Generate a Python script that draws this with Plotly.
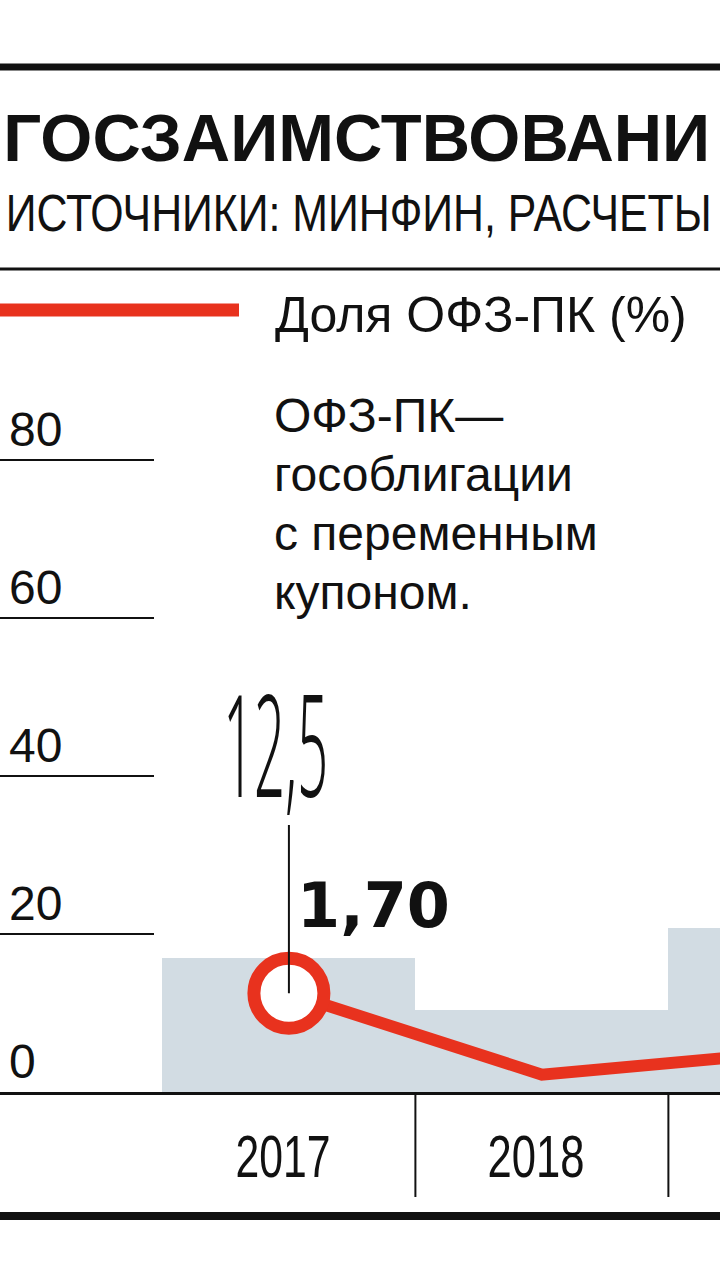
import json
import plotly.graph_objects as go

# данные
years = ["2017", "2018", "2019"]
borrow = [1.70, 1.04, 2.07]      # столбики, трлн руб.
share_pk = [12.5, 2.2, 5.1]      # доля ОФЗ-ПК, %
y_ticks = [0, 20, 40, 60, 80]

title = "ГОСЗАИМСТВОВАНИ"
source = "ИСТОЧНИКИ: МИНФИН, РАСЧЕТЫ"
legend_txt = "Доля ОФЗ-ПК (%)"
note_lines = ["ОФЗ-ПК—", "гособлигации", "с переменным", "купоном."]

RED = "#e8321e"
BAR = "#d2dce3"
INK = "#111111"
REG = "Liberation Sans, Arial"

W, H = 720, 1280
TOP, BOT = 380, 1092          # plot area in px
PX = 7.9                      # px per unit of y
ymax = (BOT - TOP) / PX

pk_label = f"{share_pk[0]:.1f}".replace(".", ",")
bar_label = f"{borrow[0]:.2f}".replace(".", ",")

# узкий шрифт имитируем сжатием текста по ширине (px)
fit = {title: 707, pk_label: 105, years[0]: 95, years[1]: 97}
scale_fit = {source: 706}


def py(p):
    # pixel row -> paper y
    return (BOT - p) / (BOT - TOP)


fig = go.Figure()

fig.add_trace(go.Bar(x=years, y=borrow, yaxis="y", marker=dict(color=BAR, line=dict(width=0)),
                     width=1, hoverinfo="skip"))
fig.add_trace(go.Scatter(x=years, y=share_pk, yaxis="y2", mode="lines",
                         line=dict(color=RED, width=12), hoverinfo="skip"))
fig.add_trace(go.Scatter(x=years[:1], y=share_pk[:1], yaxis="y2", mode="markers",
                         marker=dict(size=70, color="white", line=dict(color=RED, width=13)),
                         hoverinfo="skip"))

shapes = []
# рамка
for p, w in [(67, 7), (269, 3), (1216, 8)]:
    shapes.append(dict(type="line", xref="paper", yref="paper", x0=0, x1=1, y0=py(p), y1=py(p),
                       line=dict(color=INK, width=w)))
# легенда
shapes.append(dict(type="line", xref="paper", yref="paper", x0=0, x1=239 / W, y0=py(310), y1=py(310),
                   line=dict(color=RED, width=13)))
# короткие линии сетки
for v in y_ticks[1:]:
    shapes.append(dict(type="line", xref="paper", yref="y2", x0=0, x1=154 / W, y0=v, y1=v,
                       line=dict(color=INK, width=2)))
# разделители лет
for i in range(len(years) - 1):
    shapes.append(dict(type="line", xref="x", yref="paper", x0=i + 0.5, x1=i + 0.5, y0=0, y1=py(1197),
                       line=dict(color=INK, width=2)))
# выноска
shapes.append(dict(type="line", xref="x", yref="y2", x0=0, x1=0, y0=share_pk[0], y1=(BOT - 825) / PX,
                   line=dict(color=INK, width=2), layer="above"))

annotations = [
    dict(text=title, x=356.5 / W, y=py(137), xref="paper", yref="paper", xanchor="center",
         yanchor="middle", showarrow=False, font=dict(family=REG, size=67, color=INK, weight="bold")),
    dict(text=source, x=358 / W, y=py(213), xref="paper", yref="paper", xanchor="center",
         yanchor="middle", showarrow=False, font=dict(family=REG, size=52, color=INK)),
    dict(text=legend_txt, x=273 / W, y=py(315), xref="paper", yref="paper", xanchor="left",
         yanchor="middle", showarrow=False, font=dict(family=REG, size=50, color=INK)),
    dict(text=pk_label, x=0, y=(BOT - 742) / PX, xref="x", yref="y2",
         xshift=-13, xanchor="center", yanchor="middle", showarrow=False,
         font=dict(family="Noto Sans, Liberation Sans", size=142, color=INK, weight=300)),
    dict(text=bar_label, x=0, y=(BOT - 905) / PX, xref="x", yref="y2",
         xshift=6, xanchor="left", yanchor="middle", showarrow=False,
         font=dict(family="DejaVu Sans", size=62, color=INK, weight="bold")),
]
for k, line in enumerate(note_lines):
    annotations.append(dict(text=line, x=272 / W, y=py(387 + 59 * k), xref="paper", yref="paper",
                            xanchor="left", yanchor="top", showarrow=False,
                            font=dict(family=REG, size=48, color=INK)))

fig.update_layout(
    width=W, height=H,
    margin=dict(l=0, r=0, t=TOP, b=H - BOT, pad=0),
    paper_bgcolor="white", plot_bgcolor="white",
    showlegend=False, bargap=0,
    xaxis=dict(type="category", range=[-1.142, 1.704],
               showgrid=False, zeroline=False, showline=True, linecolor=INK, linewidth=3,
               ticks="", ticklabelstandoff=10, ticklabelshift=-6,
               tickfont=dict(family=REG, size=60, color=INK)),
    yaxis=dict(range=[0, ymax / 10], visible=False),
    yaxis2=dict(range=[0, ymax], overlaying="y", side="left", tickvals=y_ticks,
                showgrid=False, zeroline=False, showline=False,
                ticks="", ticklabelposition="inside", ticklabelshift=-31, ticklabelstandoff=6,
                tickfont=dict(family=REG, size=48, color=INK)),
    shapes=shapes, annotations=annotations,
)

js = """
document.body.style.margin = '0';
var gd = document.getElementById('{plot_id}');
var fit = %s;
var scaleFit = %s;
function squeeze() {
  gd.querySelectorAll('text').forEach(function (t) {
    var k = t.textContent;
    if (fit[k]) {
      t.setAttribute('textLength', fit[k]);
      t.setAttribute('lengthAdjust', 'spacingAndGlyphs');
    } else if (scaleFit[k] && !t.getAttribute('data-sq')) {
      var b = t.getBBox();
      var s = scaleFit[k] / b.width;
      var cx = b.x + b.width / 2;
      t.setAttribute('transform', 'translate(' + cx * (1 - s) + ',0) scale(' + s + ',1)');
      t.setAttribute('data-sq', '1');
    }
  });
}
squeeze();
gd.on('plotly_afterplot', squeeze);
""" % (json.dumps(fit, ensure_ascii=False), json.dumps(scale_fit, ensure_ascii=False))

fig.write_html("out.html", post_script=js, config={"displayModeBar": False})
